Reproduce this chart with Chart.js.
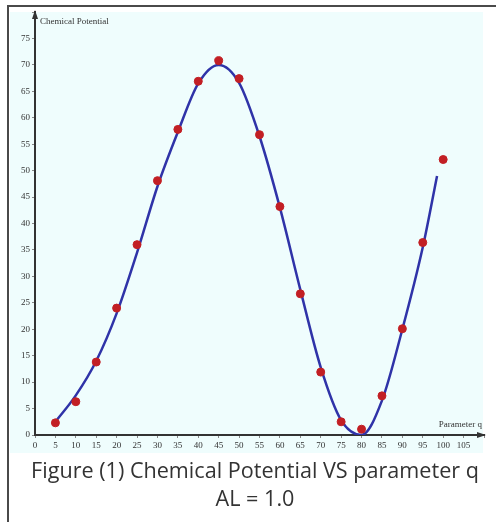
<!DOCTYPE html>
<html>
<head>
<meta charset="utf-8">
<script src="https://cdn.jsdelivr.net/npm/chart.js@4.4.1/dist/chart.umd.min.js"></script>
<style>
  body { margin: 0; width: 496px; height: 522px; background: #fff; position: relative; overflow: hidden; }
  .frame { position: absolute; left: 7px; top: 5px; width: 500px; height: 530px; border-left: 2px solid #4a4a4a; border-top: 2px solid #4a4a4a; }
  .plotBg { position: absolute; left: 10px; top: 12px; width: 473px; height: 441px; background: #effdfd; }
  .chartBox { position: absolute; left: 0; top: 0; width: 496px; height: 460px; }
  .caption { position: absolute; left: 0; top: 456px; width: 510px; text-align: center; font-family: "Open Sans", sans-serif; font-size: 21.6px; line-height: 28px; color: #333; }
</style>
</head>
<body>
<div class="frame"></div>
<div class="plotBg"></div>
<div class="chartBox"><canvas id="potentialChart"></canvas></div>
<div class="caption">Figure (1) Chemical Potential VS parameter q<br>AL = 1.0</div>

<script>
// measured points (red dots)
const qValues = [5, 10, 15, 20, 25, 30, 35, 40, 45, 50, 55, 60, 65, 70, 75, 80, 85, 90, 95, 100];
const potentialValues = [2.3, 6.3, 13.8, 24.0, 36.0, 48.1, 57.8, 66.9, 70.8, 67.4, 56.8, 43.2, 26.7, 11.9, 2.5, 1.1, 7.4, 20.1, 36.4, 52.1];

// fitted curve (blue line)
const fitQ = [5, 10, 15, 20, 25, 30, 35, 40, 45, 50, 55, 60, 65, 70, 75, 80, 85, 90, 95, 98.5];
const fitValues = [2.5, 7.5, 14, 23, 34.5, 47, 57.3, 66.5, 70, 66.6, 56.5, 43, 27.5, 12.8, 2.8, 0, 6.5, 20, 35.5, 49];

const xTickMax = 105;
const yTickMax = 75;

const toPoints = (xs, ys) => xs.map((x, i) => ({ x: x, y: ys[i] }));

// arrows and axis names
const axisDecor = {
  id: 'axisDecor',
  afterDraw(chart) {
    const { ctx, chartArea } = chart;
    const left = chartArea.left, bottom = chartArea.bottom, top = chartArea.top, right = chartArea.right;
    ctx.save();
    ctx.fillStyle = '#333';
    ctx.beginPath();
    ctx.moveTo(left, top - 2);
    ctx.lineTo(left - 3, top + 7);
    ctx.lineTo(left + 3, top + 7);
    ctx.closePath();
    ctx.fill();
    ctx.beginPath();
    ctx.moveTo(right + 2, bottom);
    ctx.lineTo(right - 7, bottom - 3);
    ctx.lineTo(right - 7, bottom + 3);
    ctx.closePath();
    ctx.fill();

    ctx.font = '9px "Liberation Serif", serif';
    ctx.textBaseline = 'middle';
    ctx.textAlign = 'left';
    ctx.fillText('Chemical Potential', left + 5, top + 10);
    ctx.textAlign = 'right';
    ctx.fillText('Parameter q', right - 2, bottom - 10);
    ctx.restore();
  }
};

new Chart(document.getElementById('potentialChart'), {
  type: 'scatter',
  data: {
    datasets: [
      {
        label: 'Measured',
        data: toPoints(qValues, potentialValues),
        backgroundColor: '#c21f24',
        borderColor: '#c21f24',
        pointRadius: 4,
        order: 0
      },
      {
        label: 'Fit',
        data: toPoints(fitQ, fitValues),
        showLine: true,
        borderColor: '#2f33a8',
        borderWidth: 2.5,
        pointRadius: 0,
        cubicInterpolationMode: 'monotone',
        order: 1
      }
    ]
  },
  plugins: [axisDecor],
  options: {
    responsive: true,
    maintainAspectRatio: false,
    animation: false,
    layout: { padding: { left: 10, top: 12, right: 12, bottom: 7 } },
    plugins: {
      legend: { display: false },
      tooltip: { enabled: false }
    },
    scales: {
      x: {
        type: 'linear',
        min: 0,
        max: 110,
        afterFit: s => { s.height = 18; },
        border: { color: '#333', width: 2 },
        grid: { drawOnChartArea: false, drawTicks: true, tickLength: 3, color: '#888' },
        ticks: {
          stepSize: 5,
          autoSkip: false,
          maxRotation: 0,
          padding: 2,
          color: '#333',
          font: { family: '"Liberation Serif", serif', size: 9 },
          callback: v => (v <= xTickMax ? v : '')
        }
      },
      y: {
        type: 'linear',
        min: 0,
        max: 80,
        afterFit: s => { s.width = 25; },
        border: { color: '#333', width: 2 },
        grid: { drawOnChartArea: false, drawTicks: true, tickLength: 3, color: '#888' },
        ticks: {
          stepSize: 5,
          autoSkip: false,
          padding: 2,
          color: '#333',
          font: { family: '"Liberation Serif", serif', size: 9 },
          callback: v => (v <= yTickMax ? v : '')
        }
      }
    }
  }
});
</script>
</body>
</html>
